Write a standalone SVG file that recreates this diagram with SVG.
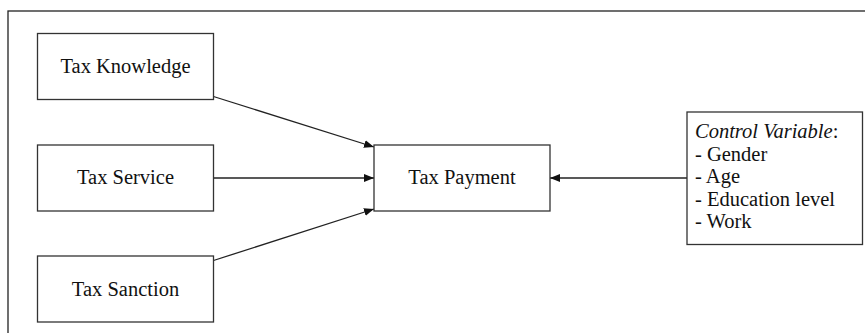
<svg xmlns="http://www.w3.org/2000/svg" width="865" height="333" viewBox="0 0 865 333">
<style>
.box{fill:#fff;stroke:#333;stroke-width:1.3}
.t{font-family:'Liberation Serif',Tinos,'Times New Roman','DejaVu Serif',serif;font-size:20.5px;fill:#111}
.c{text-anchor:middle}
.e{stroke:#222;stroke-width:1.3;fill:none}
</style>
<defs>
<marker id="ah" viewBox="0 0 10 8" refX="10" refY="4" markerWidth="10" markerHeight="8" markerUnits="userSpaceOnUse" orient="auto">
<path d="M0,0 L10,4 L0,8 Z" fill="#111"/>
</marker>
</defs>
<rect x="8" y="11" width="900" height="400" fill="#fff" stroke="#222" stroke-width="1.3"/>
<g id="connectors">
<line class="e" x1="213.5" y1="96.5" x2="374" y2="147" marker-end="url(#ah)"/>
<line class="e" x1="213.5" y1="178" x2="374" y2="178" marker-end="url(#ah)"/>
<line class="e" x1="213.5" y1="260.5" x2="374" y2="209" marker-end="url(#ah)"/>
<line class="e" x1="687" y1="178" x2="550" y2="178" marker-end="url(#ah)"/>
</g>
<g id="knowledge">
<rect class="box" x="37.5" y="33.5" width="176" height="66"/>
<text class="t c" x="125.5" y="73" font-family="Liberation Serif, DejaVu Serif, serif">Tax Knowledge</text>
</g>
<g id="service">
<rect class="box" x="37.5" y="145" width="176" height="66"/>
<text class="t c" x="125.5" y="184">Tax Service</text>
</g>
<g id="sanction">
<rect class="box" x="37.5" y="256" width="176" height="66"/>
<text class="t c" x="125.5" y="295.5">Tax Sanction</text>
</g>
<g id="payment">
<rect class="box" x="374" y="145" width="176" height="66"/>
<text class="t c" x="462" y="183.5">Tax Payment</text>
</g>
<g id="control">
<rect class="box" x="687" y="112" width="175.5" height="132.5"/>
<text class="t" x="695" y="138"><tspan font-style="italic">Control Variable</tspan>:</text>
<text class="t" x="695" y="160.5">- Gender</text>
<text class="t" x="695" y="183">- Age</text>
<text class="t" x="695" y="205.5">- Education level</text>
<text class="t" x="695" y="228">- Work</text>
</g>
</svg>
